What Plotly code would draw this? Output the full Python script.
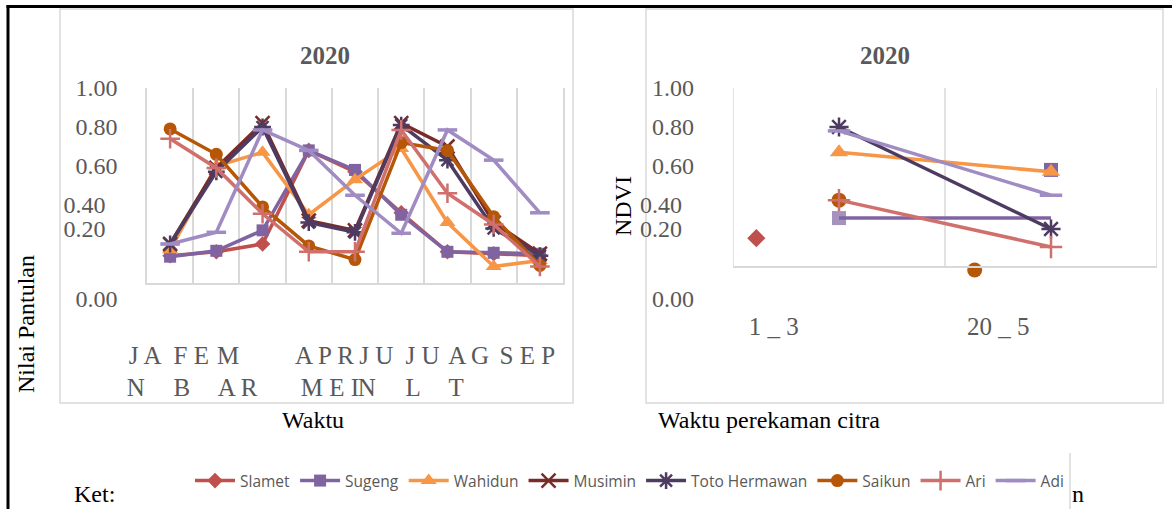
import plotly.graph_objects as go

W, H = 1172, 509


def px(x):
    return x / W


def py(y):
    return 1 - y / H


NB = "\u00a0"

# ---------------- data: left panel (Nilai Pantulan per month) ----------------
months = ["JAN", "FEB", "MAR", "APR", "MEI", "JUN", "JUL", "AGT", "SEP"]
month_ticktext = [
    "J A<br>N" + NB * 3,
    "F E<br>B" + NB * 3,
    "M" + NB * 3 + "<br>A R",
    NB * 13 + "A P R<br>" + NB,
    NB + "<br>M E I",
    "J U<br>N" + NB * 3,
    "J U<br>L" + NB * 3,
    "A G<br>T" + NB * 4,
    NB * 4 + "S E P<br>" + NB,
]

slamet = [0.14, 0.16, 0.20, 0.68, 0.57, 0.36, 0.16, 0.15, 0.14]
sugeng = [0.135, 0.165, 0.27, 0.68, 0.58, 0.35, 0.16, 0.155, 0.15]
wahidun = [0.17, 0.60, 0.67, 0.35, 0.53, 0.69, 0.31, 0.085, 0.115]
musimin = [0.20, 0.59, 0.82, 0.32, 0.27, 0.82, 0.70, 0.31, 0.15]
toto = [0.20, 0.57, 0.80, 0.31, 0.26, 0.81, 0.63, 0.28, 0.14]
saikun = [0.79, 0.66, 0.39, 0.19, 0.12, 0.72, 0.68, 0.34, 0.09]
ari = [0.74, 0.59, 0.355, 0.16, 0.16, 0.785, 0.46, 0.30, 0.085]
adi = [0.20, 0.26, 0.785, 0.68, 0.45, 0.255, 0.785, 0.63, 0.36]

# ---------------- data: right panel (NDVI) ----------------
ndvi_dates = ["1 _ 3", "20 _ 5"]
ndvi_ticktext = ["1 _ 3" + NB * 2, NB * 2 + "20 _ 5"]
ndvi_pos = [0, 1]
ndvi_slamet_x = [-0.39]
ndvi_slamet = [0.23]
ndvi_sugeng = [0.333, 0.333]
ndvi_sugeng_extra_x = [1]
ndvi_sugeng_extra = [0.58]
ndvi_wahidun = [0.67, 0.57]
ndvi_toto = [0.80, 0.277]
ndvi_saikun_x = [0, 0.64]
ndvi_saikun = [0.425, 0.067]
ndvi_ari = [0.425, 0.185]
ndvi_adi = [0.78, 0.45]

yticks = [0, 0.2, 0.4, 0.6, 0.8, 1.0]
ytick_text = [NB + "<br>0.00", "0.20" + NB * 2 + "<br>" + NB, "0.40" + NB * 2,
              "0.60", "0.80", "1.00"]

# ---------------- styles ----------------
styles = {
    "Slamet": dict(color="#C0504D", symbol="diamond", size=12, open=False),
    "Sugeng": dict(color="#8064A2", symbol="square", size=12, open=False),
    "Wahidun": dict(color="#F79646", symbol="triangle-up", size=14, open=False),
    "Musimin": dict(color="#772C2A", symbol="x-thin-open", size=14, open=True),
    "Toto Hermawan": dict(color="#4D3B62", symbol="asterisk-open", size=14, open=True),
    "Saikun": dict(color="#B65708", symbol="circle", size=13, open=False),
    "Ari": dict(color="#D0706C", symbol="cross-thin-open", size=14, open=True),
    "Adi": dict(color="#A08BC2", symbol="line-ew-open", size=14, open=True),
}


def marker(name, size=None):
    s = styles[name]
    m = dict(color=s["color"], symbol=s["symbol"], size=size or s["size"])
    if s["open"]:
        m["line"] = dict(color=s["color"], width=2.5 if name != "Adi" else 3.5)
    else:
        m["line"] = dict(width=0)
    return m


fig = go.Figure()

left_series = [("Slamet", slamet), ("Sugeng", sugeng), ("Wahidun", wahidun),
               ("Musimin", musimin), ("Toto Hermawan", toto), ("Saikun", saikun),
               ("Ari", ari), ("Adi", adi)]
for name, vals in left_series:
    fig.add_trace(go.Scatter(
        x=months, y=vals, name=name, mode="lines+markers",
        line=dict(color=styles[name]["color"], width=3.5),
        marker=marker(name), legendgroup=name, cliponaxis=False,
        xaxis="x", yaxis="y"))

right_series = [
    ("Slamet", ndvi_slamet_x, ndvi_slamet, "markers"),
    ("Sugeng", ndvi_sugeng_extra_x, ndvi_sugeng_extra, "markers"),
    ("Sugeng", ndvi_pos, ndvi_sugeng, "lines+markers"),
    ("Wahidun", ndvi_pos, ndvi_wahidun, "lines+markers"),
    ("Toto Hermawan", ndvi_pos, ndvi_toto, "lines+markers"),
    ("Saikun", ndvi_saikun_x, ndvi_saikun, "markers"),
    ("Ari", ndvi_pos, ndvi_ari, "lines+markers"),
    ("Adi", ndvi_pos, ndvi_adi, "lines+markers"),
]
for name, xs, vals, mode in right_series:
    mk = marker(name, size=styles[name]["size"] + 2)
    if name == "Sugeng" and mode == "lines+markers":
        mk["size"] = [mk["size"], 0]
    fig.add_trace(go.Scatter(
        x=xs, y=vals, name=name, mode=mode, showlegend=False,
        line=dict(color=styles[name]["color"], width=3.5),
        marker=mk, legendgroup=name, cliponaxis=False,
        xaxis="x2", yaxis="y2"))

grid = "#D9D9D9"
tickfont = dict(family="Liberation Serif", size=24, color="#595959")

fig.update_layout(
    width=W, height=H, autosize=False,
    margin=dict(l=0, r=0, t=0, b=0, autoexpand=False),
    paper_bgcolor="white", plot_bgcolor="white",
    showlegend=True,
    legend=dict(orientation="h", x=px(190), xanchor="left", y=py(481), yanchor="middle",
                font=dict(family="Open Sans", size=15.5, color="#595959"),
                itemwidth=40,
                bgcolor="rgba(0,0,0,0)", tracegroupgap=0),
    xaxis=dict(domain=[px(147), px(563)], type="category",
               categoryorder="array", categoryarray=months,
               tickmode="array", tickvals=months, ticktext=month_ticktext,
               range=[-0.5, 8.5], tickson="boundaries", ticks="", tickangle=0,
               showgrid=True, gridcolor=grid, gridwidth=1.5,
               showline=True, linecolor=grid, linewidth=1.5,
               ticklabelstandoff=49, ticklabelshift=-25, automargin=False,
               tickfont=dict(family="Liberation Serif", size=25, color="#595959"),
               anchor="y", fixedrange=True),
    yaxis=dict(domain=[py(283), py(88)], range=[0, 1],
               tickmode="array", tickvals=yticks, ticktext=ytick_text,
               showgrid=False, zeroline=False, showline=True, mirror=True,
               linecolor=grid, linewidth=1.5, ticks="", automargin=False,
               ticklabelstandoff=23, tickfont=tickfont, anchor="x", fixedrange=True),
    xaxis2=dict(domain=[px(733), px(1157)], range=[-0.5, 1.5],
                tickmode="array", tickvals=ndvi_pos, ticktext=ndvi_ticktext,
                showgrid=False, zeroline=False, showline=True, linecolor=grid,
                linewidth=1.5, ticks="", tickangle=0, anchor="free", position=py(267),
                ticklabelstandoff=37, ticklabelshift=-59, automargin=False,
                tickfont=dict(family="Liberation Serif", size=25, color="#595959"),
                fixedrange=True),
    yaxis2=dict(domain=[py(283), py(88)], range=[0, 1], anchor="x2",
                tickmode="array", tickvals=yticks, ticktext=ytick_text,
                showgrid=False, zeroline=False, showline=False, ticks="",
                automargin=False,
                ticklabelstandoff=38, tickfont=tickfont, fixedrange=True),
)

shapes = []
# right panel plot-area lines
for xv in [-0.5, 0.5, 1.5]:
    shapes.append(dict(type="line", xref="x2", yref="paper", x0=xv, x1=xv,
                       y0=py(267), y1=py(88), line=dict(color=grid, width=1.5),
                       layer="below"))
# chart boxes
for x0, x1 in [(60, 573), (646, 1163)]:
    shapes.append(dict(type="rect", xref="paper", yref="paper",
                       x0=px(x0), x1=px(x1), y0=py(403), y1=py(9),
                       line=dict(color=grid, width=1.5), fillcolor="rgba(0,0,0,0)",
                       layer="below"))
# page frame lines
shapes.append(dict(type="line", xref="paper", yref="paper", x0=px(6.5), x1=1,
                   y0=py(6.5), y1=py(6.5), line=dict(color="black", width=3)))
shapes.append(dict(type="line", xref="paper", yref="paper", x0=px(8), x1=px(8),
                   y0=py(5), y1=0, line=dict(color="black", width=3)))
shapes.append(dict(type="line", xref="paper", yref="paper", x0=px(1070), x1=px(1070),
                   y0=py(453), y1=0, line=dict(color=grid, width=1.5)))
fig.update_layout(shapes=shapes)

serif = "Liberation Serif"
ann = [
    dict(text="<b>2020</b>", x=px(325), y=py(55), font=dict(family=serif, size=25, color="#595959")),
    dict(text="<b>2020</b>", x=px(885), y=py(55), font=dict(family=serif, size=25, color="#595959")),
    dict(text="Nilai Pantulan", x=px(26), y=py(324), textangle=-90,
         font=dict(family=serif, size=24, color="black")),
    dict(text="NDVI", x=px(623), y=py(206), textangle=-90,
         font=dict(family=serif, size=24, color="black")),
    dict(text="Waktu", x=px(313), y=py(420), font=dict(family=serif, size=24, color="black")),
    dict(text="Waktu perekaman citra", x=px(769), y=py(420),
         font=dict(family=serif, size=24, color="black")),
    dict(text="Ket:", x=px(94), y=py(494), font=dict(family=serif, size=24, color="black")),
    dict(text="n", x=px(1078), y=py(494), font=dict(family=serif, size=24, color="black")),
]
for a in ann:
    a.update(xref="paper", yref="paper", showarrow=False, xanchor="center", yanchor="middle")
fig.update_layout(annotations=ann)

fig.write_html(
    "out.html",
    config={"displayModeBar": False},
    post_script="document.body.style.margin='0';document.body.style.overflow='hidden';",
)
